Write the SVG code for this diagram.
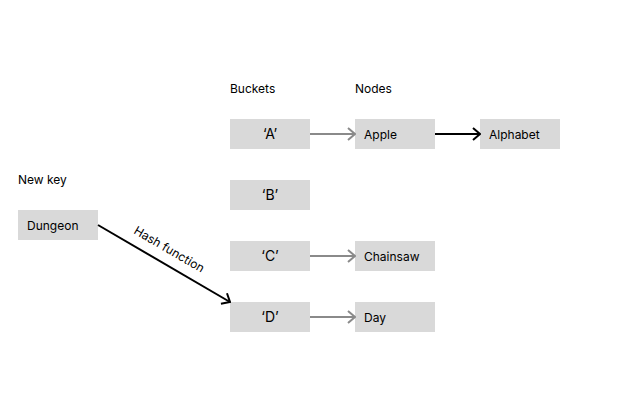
<svg xmlns="http://www.w3.org/2000/svg" width="620" height="420" viewBox="0 0 620 420">
<defs>
<style>
.box{fill:#d9d9d9}
.t{font-family:Inter,"Liberation Sans",sans-serif;font-size:12px;fill:#000}
.b{font-family:Inter,"Liberation Sans",sans-serif;font-size:14px;fill:#000;text-anchor:middle}
.g{stroke:#8a8a8a;stroke-width:2;fill:none}
.k{stroke:#000;stroke-width:2;fill:none}
</style>
<marker id="ag" viewBox="0 0 10 14" refX="9" refY="7" markerWidth="10" markerHeight="14" markerUnits="userSpaceOnUse" orient="auto"><path d="M2,1 L9,7 L2,13" fill="none" stroke="#8a8a8a" stroke-width="2"/></marker>
<marker id="ak" viewBox="0 0 10 14" refX="9" refY="7" markerWidth="10" markerHeight="14" markerUnits="userSpaceOnUse" orient="auto"><path d="M2,1 L9,7 L2,13" fill="none" stroke="#000" stroke-width="2"/></marker>
</defs>
<rect width="620" height="420" fill="#fff"/>
<text class="t" x="230" y="93">Buckets</text>
<text class="t" x="355" y="93">Nodes</text>
<text class="t" x="18" y="184">New key</text>
<g id="bucketA"><rect class="box" x="230" y="119" width="80" height="30"/><text class="b" x="270" y="139">‘A’</text></g>
<g id="bucketB"><rect class="box" x="230" y="180" width="80" height="30"/><text class="b" x="270" y="200">‘B’</text></g>
<g id="bucketC"><rect class="box" x="230" y="241" width="80" height="30"/><text class="b" x="270" y="261">‘C’</text></g>
<g id="bucketD"><rect class="box" x="230" y="302" width="80" height="30"/><text class="b" x="270" y="322">‘D’</text></g>
<g id="apple"><rect class="box" x="355" y="119" width="80" height="30"/><text class="t" x="364" y="138.5">Apple</text></g>
<g id="alphabet"><rect class="box" x="480" y="119" width="80" height="30"/><text class="t" x="489" y="138.5">Alphabet</text></g>
<g id="chainsaw"><rect class="box" x="355" y="241" width="80" height="30"/><text class="t" x="364" y="260.5">Chainsaw</text></g>
<g id="day"><rect class="box" x="355" y="302" width="80" height="30"/><text class="t" x="364" y="321.5">Day</text></g>
<g id="dungeon"><rect class="box" x="18" y="210" width="80" height="30"/><text class="t" x="27" y="229.5">Dungeon</text></g>
<g id="connectors">
<line class="g" x1="310" y1="134" x2="355" y2="134" marker-end="url(#ag)"/>
<line class="k" x1="435" y1="134" x2="480" y2="134" marker-end="url(#ak)"/>
<line class="g" x1="310" y1="256" x2="355" y2="256" marker-end="url(#ag)"/>
<line class="g" x1="310" y1="317" x2="355" y2="317" marker-end="url(#ag)"/>
<line class="k" x1="98" y1="225" x2="230" y2="302" marker-end="url(#ak)"/>
<text class="t" transform="translate(133,233) rotate(30.3)">Hash function</text>
</g>
</svg>
